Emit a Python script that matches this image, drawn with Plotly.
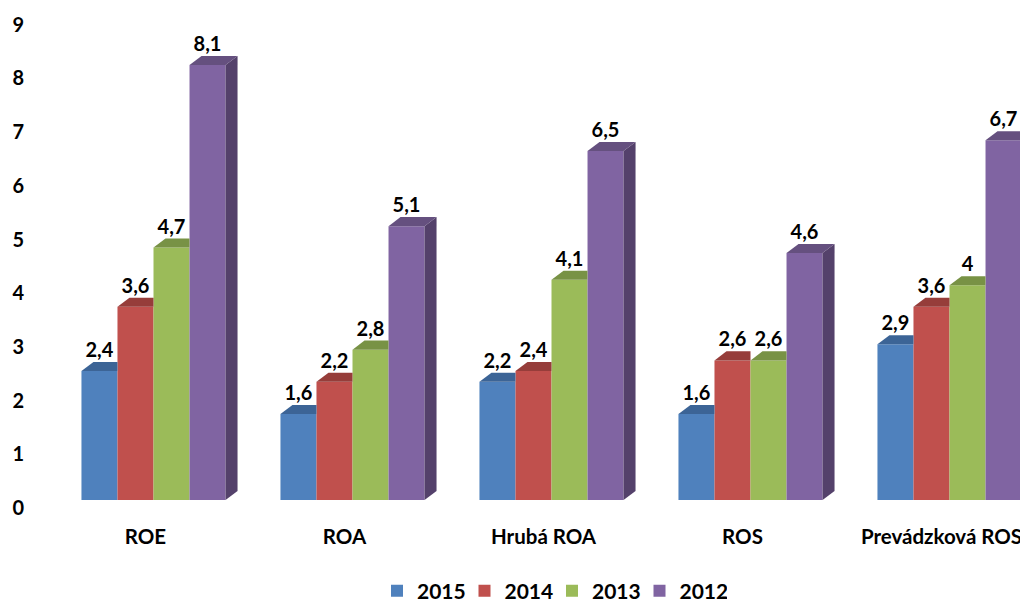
import plotly.graph_objects as go

categories = ["ROE", "ROA", "Hrubá ROA", "ROS", "Prevádzková ROS"]
years = ["2015", "2014", "2013", "2012"]
v2015 = [2.4, 1.6, 2.2, 1.6, 2.9]
v2014 = [3.6, 2.2, 2.4, 2.6, 3.6]
v2013 = [4.7, 2.8, 4.1, 2.6, 4.0]
v2012 = [8.1, 5.1, 6.5, 4.6, 6.7]
labels2015 = ["2,4", "1,6", "2,2", "1,6", "2,9"]
labels2014 = ["3,6", "2,2", "2,4", "2,6", "3,6"]
labels2013 = ["4,7", "2,8", "4,1", "2,6", "4"]
labels2012 = ["8,1", "5,1", "6,5", "4,6", "6,7"]
y_ticks = [0, 1, 2, 3, 4, 5, 6, 7, 8, 9]

series = [v2015, v2014, v2013, v2012]
series_labels = [labels2015, labels2014, labels2013, labels2012]
front = ["#4F81BD", "#C0504D", "#9BBB59", "#8064A2"]
top = ["#3C6496", "#963D3A", "#789245", "#65507F"]
side = ["#33507A", "#7A3230", "#617638", "#54416B"]

FONT = "Lato"
BARGAP = 0.276
n = len(series)
bw = (1 - BARGAP) / n
DX = 0.0603   # depth offset (x units)
DY = 0.168    # depth offset (y units)

# page body adds an 8px margin, so the figure is 8px smaller than the window
W, H = 1020, 596
ML, MB = 46, 104
PW, PH = W - ML, H - MB
PX_PER_CAT = 199.0
PX_PER_UNIT = 53.7

fig = go.Figure()
for k, (vals, name) in enumerate(zip(series, years)):
    fig.add_trace(go.Bar(x=list(range(len(categories))), y=vals, name=name,
                         marker=dict(color=front[k], line=dict(width=0)),
                         hoverinfo="skip"))

# 3D top faces and sides
for k, vals in enumerate(series):
    for i, v in enumerate(vals):
        x0 = i - (1 - BARGAP) / 2 + k * bw
        x1 = x0 + bw
        nxt = series[k + 1][i] if k + 1 < n else None
        if nxt is not None and nxt >= v:
            px = [x0, x1, x1, x0 + DX, x0]
            py = [v, v, v + DY, v + DY, v]
        else:
            px = [x0, x1, x1 + DX, x0 + DX, x0]
            py = [v, v, v + DY, v + DY, v]
            fig.add_trace(go.Scatter(x=[x1, x1 + DX, x1 + DX, x1, x1],
                                     y=[0, DY, v + DY, v, 0], mode="lines",
                                     fill="toself", fillcolor=side[k],
                                     line=dict(width=0), showlegend=False,
                                     hoverinfo="skip"))
        fig.add_trace(go.Scatter(x=px, y=py, mode="lines", fill="toself",
                                 fillcolor=top[k], line=dict(width=0),
                                 showlegend=False, hoverinfo="skip"))

# data labels
for k, (vals, labs) in enumerate(zip(series, series_labels)):
    xs = [i - (1 - BARGAP) / 2 + (k + 0.5) * bw for i in range(len(vals))]
    fig.add_trace(go.Scatter(x=xs, y=[v + DY for v in vals], mode="text",
                             text=labs, textposition="top center",
                             textfont=dict(family=FONT, size=20, color="#000000", weight="bold"),
                             showlegend=False, hoverinfo="skip", cliponaxis=False))

fig.update_layout(
    width=W, height=H,
    margin=dict(l=ML, r=0, t=0, b=MB, autoexpand=False),
    paper_bgcolor="white", plot_bgcolor="white",
    barmode="group", bargap=BARGAP, bargroupgap=0,
    font=dict(family=FONT, size=18, color="#000000", weight="bold"),
    xaxis=dict(range=[-0.5, -0.5 + PW / PX_PER_CAT], tickvals=list(range(len(categories))),
               ticktext=categories, showgrid=False, zeroline=False, showline=False,
               ticks="", ticklabelshift=-8, ticklabelstandoff=22, automargin=False,
               ticklabeloverflow="allow",
               tickfont=dict(family=FONT, size=20.5, weight="bold")),
    yaxis=dict(range=[0, PH / PX_PER_UNIT], tickvals=y_ticks, showgrid=False, zeroline=False,
               showline=False, ticks="", ticklabelshift=8, ticklabelstandoff=29,
               automargin=False, ticklabeloverflow="allow",
               tickfont=dict(family=FONT, size=20, weight="bold")),
    legend=dict(orientation="h", x=(369 - ML) / PW, xanchor="left",
                y=-91 / PH, yanchor="middle", entrywidth=42.5,
                font=dict(family=FONT, size=21, weight="bold"),
                traceorder="normal", bgcolor="rgba(0,0,0,0)"),
    showlegend=True,
)

fig.write_html("out.html")
